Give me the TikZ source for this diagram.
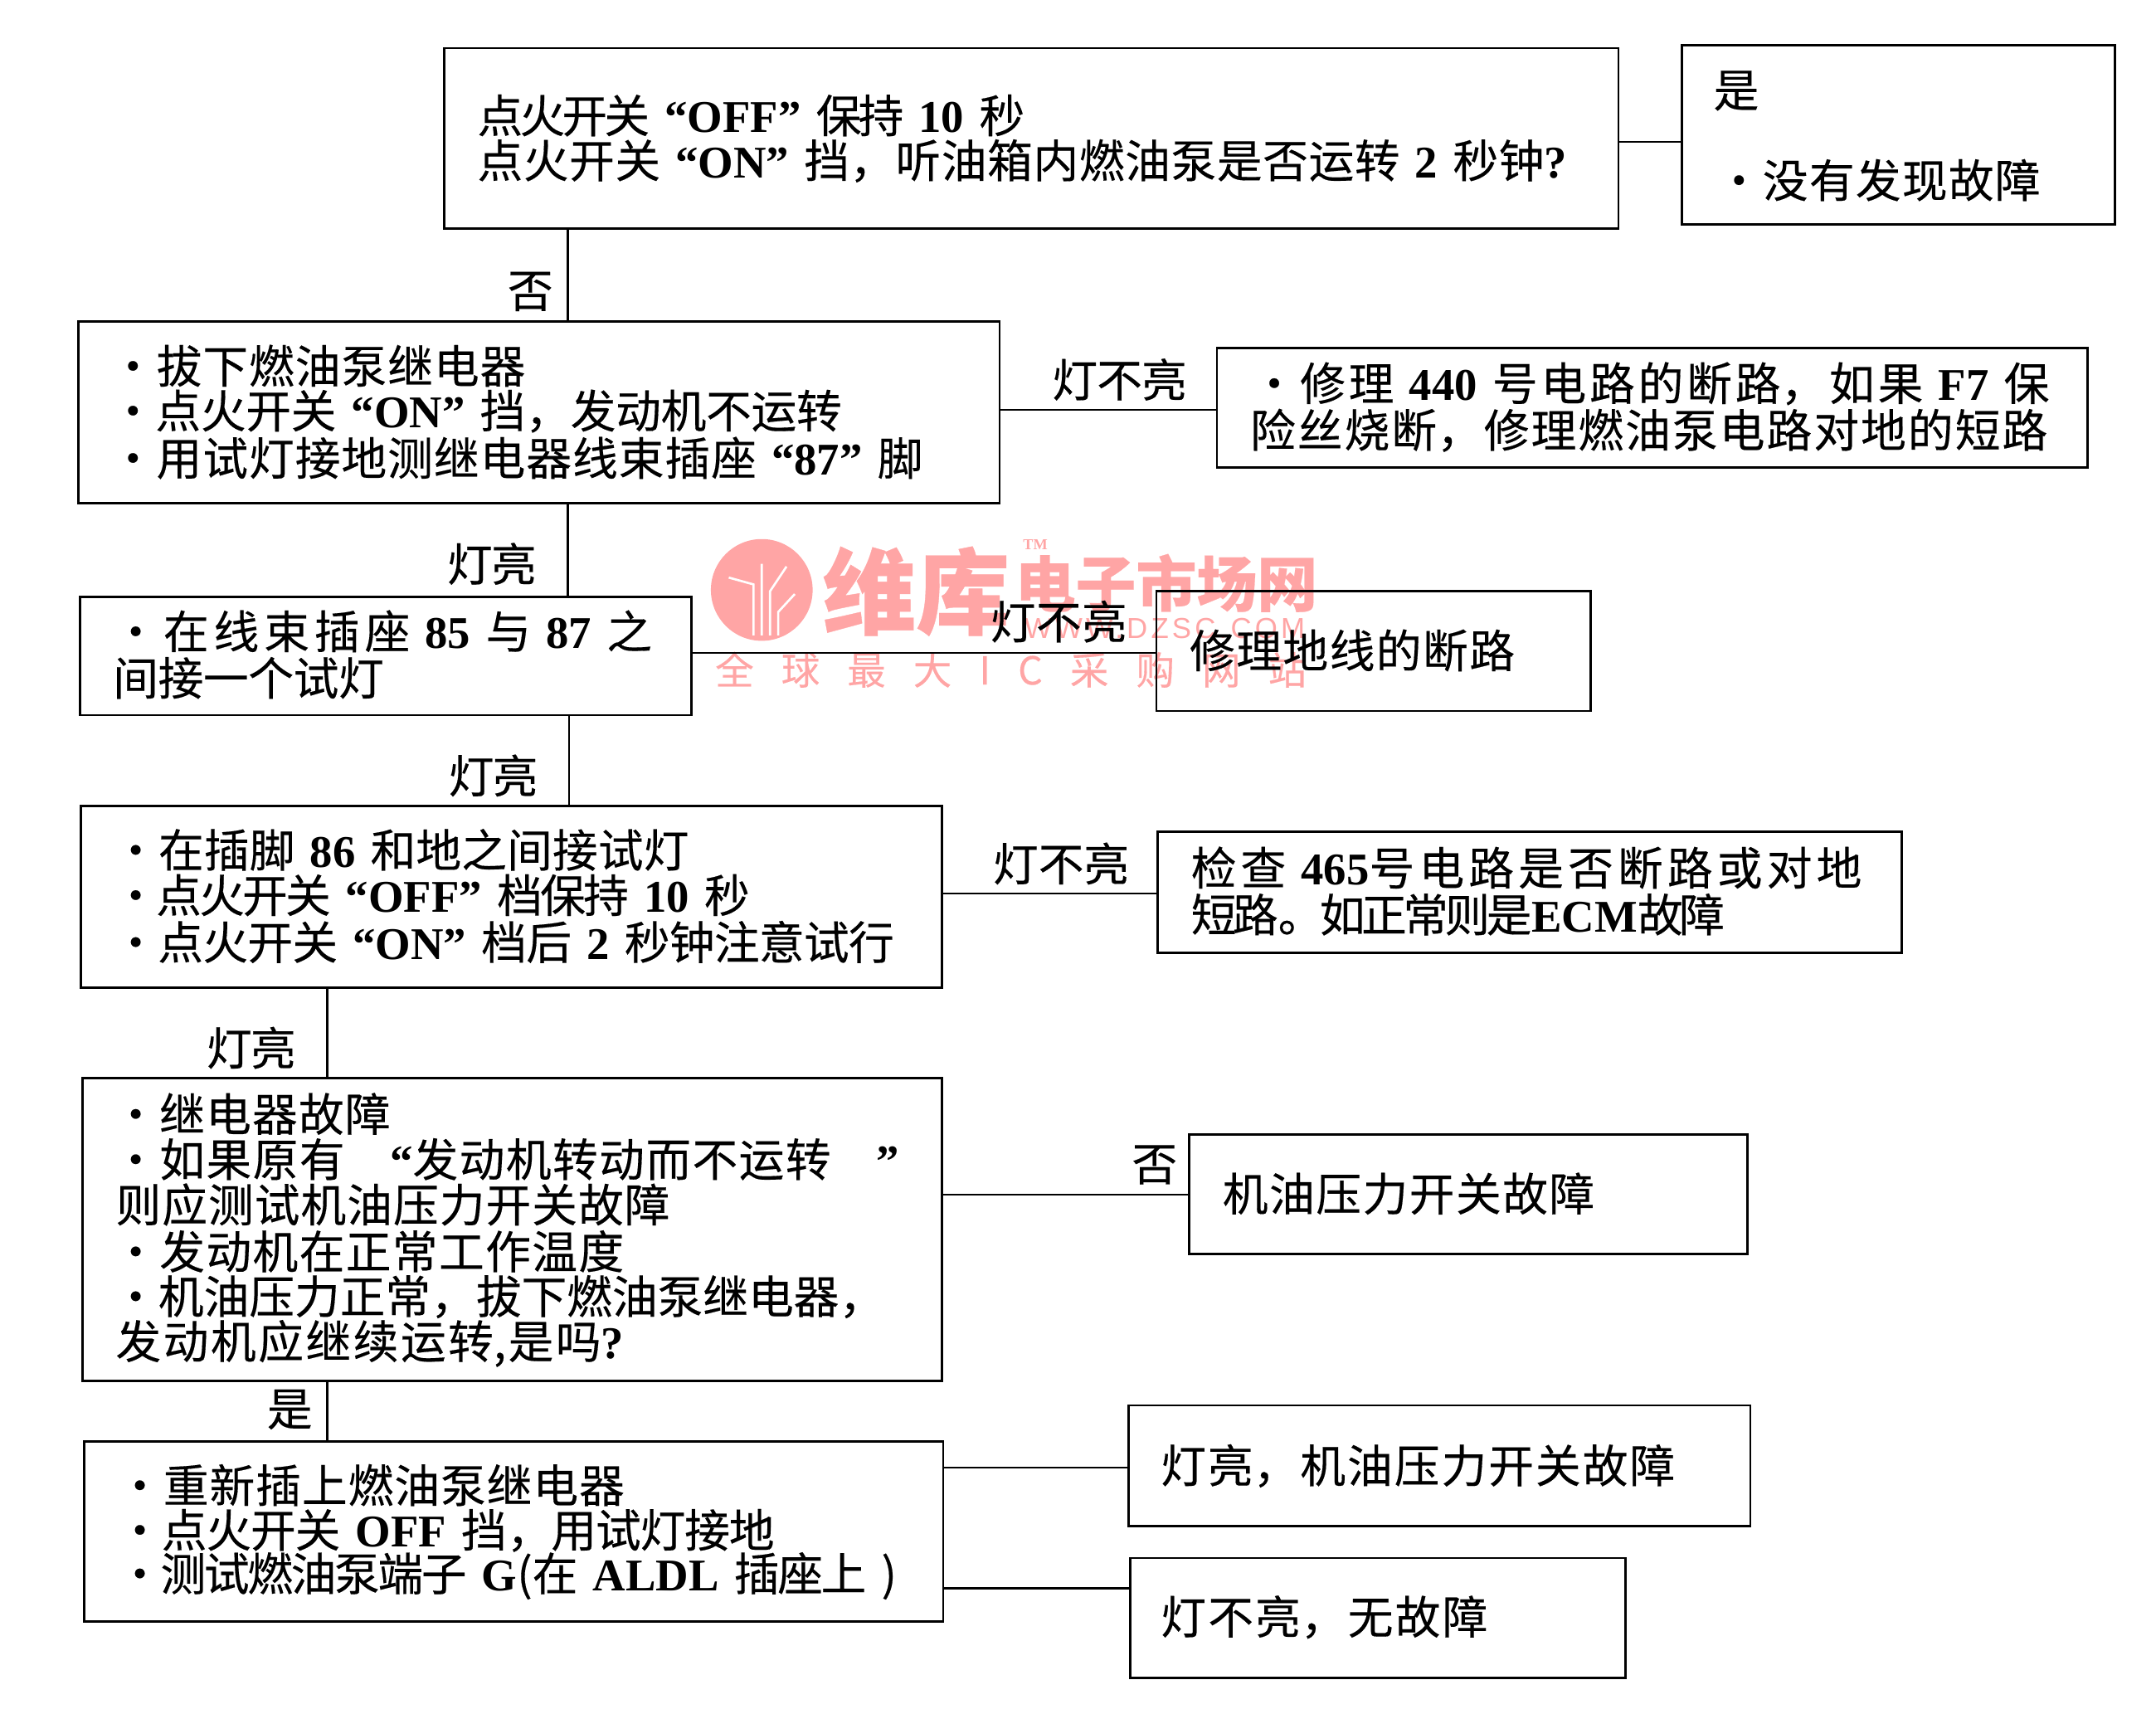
\documentclass[tikz,border=0pt]{standalone}
\usepackage{fontspec}
\setmainfont{Noto Sans CJK SC}[FakeBold=0.3]
\newfontfamily\lat{Liberation Serif}
\newfontfamily\wmlat{Liberation Sans}[LetterSpace=12]
\newcommand\la[1]{{\lat\bfseries #1}}
\newcommand\wg{\hspace{20pt}}
\XeTeXlinebreaklocale "zh"
\XeTeXlinebreakskip=0pt plus 40pt minus 3pt
\definecolor{wm}{RGB}{255,165,165}
\newcounter{tn}
\tikzset{
 boxn/.style={draw=black,line width=1.7pt,fill=none,inner sep=0pt},
 tline/.style={inner sep=0pt,anchor=west,font=\fontsize{33}{35}\selectfont},
 conn/.style={line width=1.3pt,draw=black},
 wmk/.style={inner sep=0pt,text=wm}
}
\newcommand\bx[5]{\node[boxn,minimum width={(#4-#2)*1pt},minimum height={(#5-#3)*1pt}] (#1) at ({(#2+#4)/2},{(#3+#5)/2}) {};}
\newcommand\tline[4]{\stepcounter{tn}\node[tline,text width={(#2-#1)*1pt}] (t\arabic{tn}) at (#1,#3) {\parfillskip=0pt\tolerance=10000\hfuzz=60pt\relax #4\par};}
\begin{document}
\begin{tikzpicture}[x=1pt,y=-1pt]
\useasboundingbox (0,0) rectangle (1568,1246);
% watermark
\fill[wm] (554,429) circle (37);
\draw[white,line width=1.6pt] (554,462) -- (554,410) (548,462) -- (548,425) -- (530,420) (560,462) -- (560,430) -- (572,412) (566,462) -- (566,445) -- (578,432);
\node[wmk,anchor=west,font=\fontsize{68}{68}\selectfont\bfseries] (wa) at (598,430) {维库};
\node[wmk,anchor=west,font=\fontsize{44}{44}\selectfont\bfseries] (wb) at (738,424) {电子市场网};
\node[wmk,font=\fontsize{11}{11}\selectfont\lat\bfseries] (wc) at (753,396) {TM};
\node[wmk,anchor=west,font=\fontsize{21}{21}\selectfont\wmlat] (wd) at (745,457) {WWW.DZSC.COM};
\node[wmk,anchor=west,font=\fontsize{28}{28}\selectfont] (we) at (520,487) {全\wg 球\wg 最\wg 大\wg I\wg C\wg 采\wg 购\wg 网\wg 站};
% boxes
\bx{A}{323}{35}{1177}{166}
\bx{B}{1223}{33}{1538}{163}
\bx{C}{57}{234}{727}{366}
\bx{D}{885}{253}{1518}{340}
\bx{E}{58}{434}{503}{520}
\bx{F}{841}{430}{1157}{517}
\bx{G}{59}{586}{685}{718}
\bx{H}{842}{605}{1383}{693}
\bx{I}{60}{784}{685}{1004}
\bx{J}{865}{825}{1271}{912}
\bx{K}{61}{1048}{686}{1179}
\bx{L}{821}{1022}{1273}{1110}
\bx{M}{822}{1133}{1182}{1220}
% connectors
\draw[conn] (A.east |- 0,103) -- (B.west |- 0,103);
\draw[conn] (A.south -| 413,0) -- (C.north -| 413,0);
\draw[conn] (C.east |- 0,298) -- (D.west |- 0,298);
\draw[conn] (C.south -| 413,0) -- (E.north -| 413,0);
\draw[conn] (E.east |- 0,475) -- (F.west |- 0,475);
\draw[conn] (E.south -| 414,0) -- (G.north -| 414,0);
\draw[conn] (G.east |- 0,650) -- (H.west |- 0,650);
\draw[conn] (G.south -| 238,0) -- (I.north -| 238,0);
\draw[conn] (I.east |- 0,869) -- (J.west |- 0,869);
\draw[conn] (I.south -| 238,0) -- (K.north -| 238,0);
\draw[conn] (K.east |- 0,1067) -- (L.west |- 0,1067);
\draw[conn] (K.east |- 0,1155) -- (M.west |- 0,1155);
% box texts
\tline{347}{745}{84}{点火开关 \la{“OFF”} 保持 \la{10} 秒}
\tline{347}{1140}{117}{点火开关 \la{“ON”} 挡，听油箱内燃油泵是否运转 \la{2} 秒钟\la{?}}
\tline{1246}{1279}{66}{是}
\tline{1248}{1485}{131}{·没有发现故障}
\tline{80}{383}{266}{·拔下燃油泵继电器}
\tline{80}{612}{299}{·点火开关 \la{“ON”} 挡，发动机不运转}
\tline{80}{672}{333}{·用试灯接地测继电器线束插座 \la{“87”} 脚}
\tline{910}{1494}{279}{·修理 \la{440} 号电路的断路，如果 \la{F7} 保}
\tline{909}{1491}{313}{险丝烧断，修理燃油泵电路对地的短路}
\tline{82}{480}{459}{·在线束插座 \la{85} 与 \la{87} 之}
\tline{82}{279}{493}{间接一个试灯}
\tline{865}{1103}{473}{修理地线的断路}
\tline{82}{501}{618}{·在插脚 \la{86} 和地之间接试灯}
\tline{82}{545}{651}{·点火开关 \la{“OFF”} 档保持 \la{10} 秒}
\tline{82}{650}{685}{·点火开关 \la{“ON”} 档后 \la{2} 秒钟注意试行}
\tline{866}{1359}{631}{检查 \la{465}号电路是否断路或对地}
\tline{866}{1254}{665}{短路。如正常则是\la{ECM}故障}
\tline{82}{285}{810}{·继电器故障}
\tline{82}{655}{843}{·如果原有\quad\la{“}发动机转动而不运转\quad\la{”}}
\tline{84}{488}{876}{则应测试机油压力开关故障}
\tline{82}{455}{910}{·发动机在正常工作温度}
\tline{82}{643}{943}{·机油压力正常，拔下燃油泵继电器，}
\tline{84}{456}{977}{发动机应继续运转,是吗\la{?}}
\tline{889}{1161}{868}{机油压力开关故障}
\tline{85}{455}{1080}{·重新插上燃油泵继电器}
\tline{85}{563}{1113}{·点火开关 \la{OFF} 挡，用试灯接地}
\tline{85}{652}{1146}{·测试燃油泵端子 \la{G}(在 \la{ALDL} 插座上 )}
\tline{844}{1220}{1066}{灯亮，机油压力开关故障}
\tline{844}{1084}{1176}{灯不亮，无故障}
% connector labels
\tline{369}{400}{212}{否}
\tline{765}{863}{276}{灯不亮}
\tline{325}{390}{410}{灯亮}
\tline{720}{820}{452}{灯不亮}
\tline{326}{391}{564}{灯亮}
\tline{722}{821}{628}{灯不亮}
\tline{150}{215}{762}{灯亮}
\tline{823}{853}{847}{否}
\tline{194}{226}{1025}{是}
\end{tikzpicture}
\end{document}
